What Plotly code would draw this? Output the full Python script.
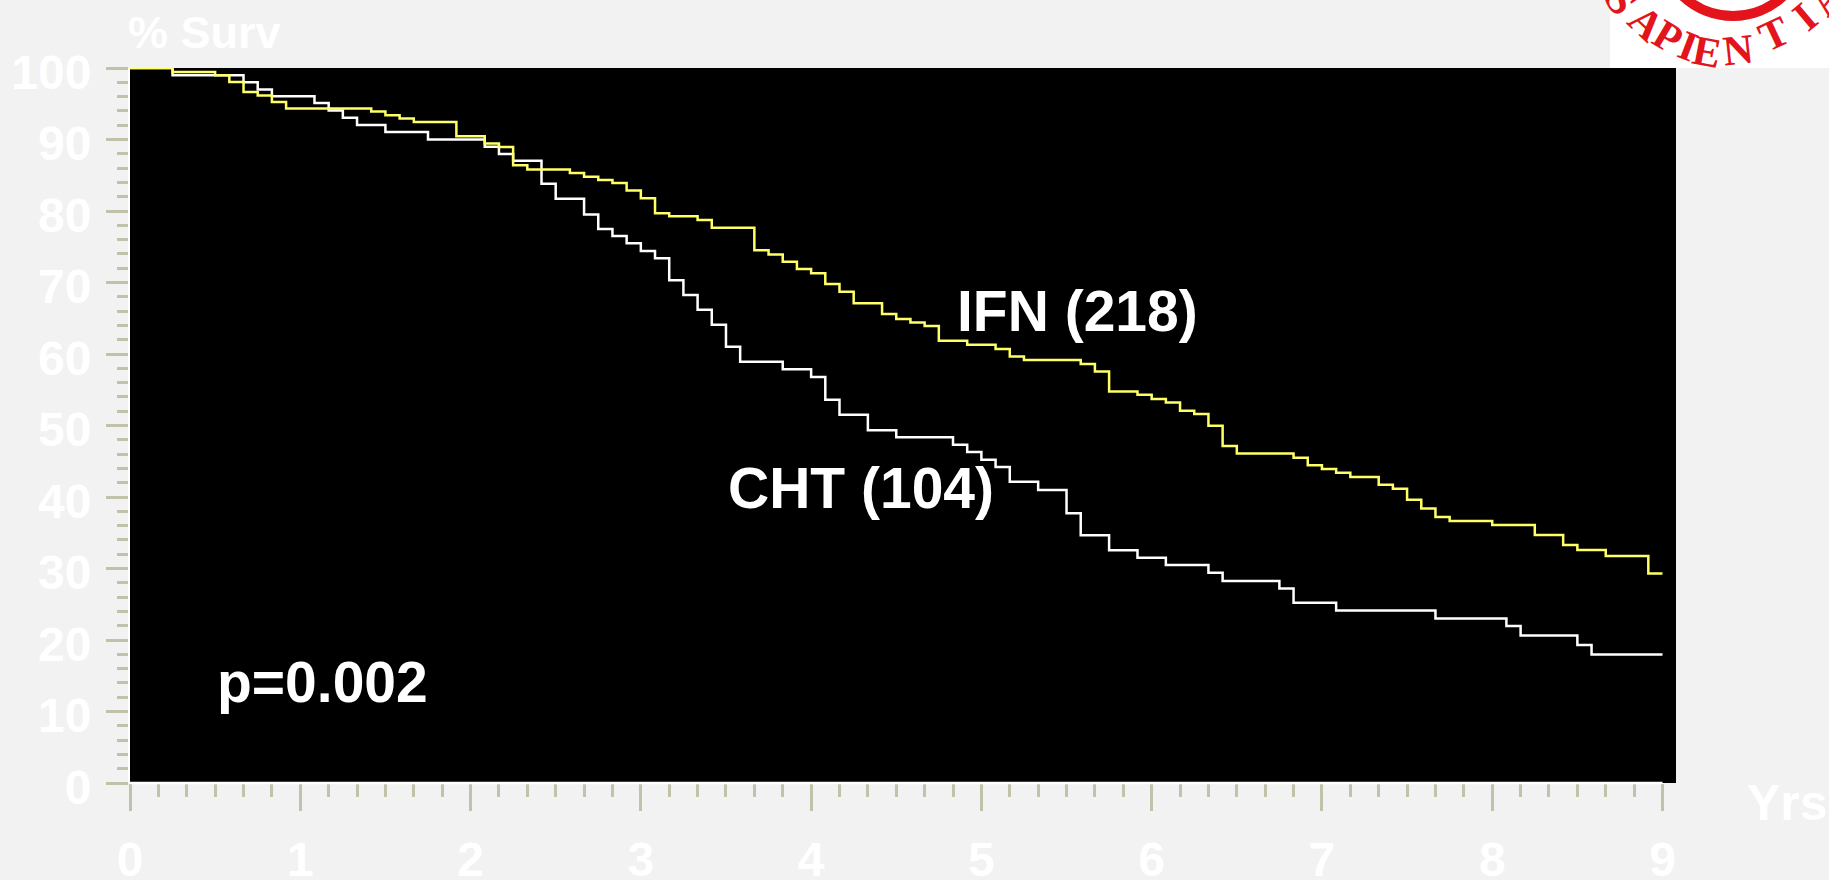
import plotly.graph_objects as go

# ---- data ----
months_ifn = [0, 3, 6, 7, 8, 9, 10, 11, 17, 18, 19, 20, 23, 25, 26, 27, 28, 31, 32, 33, 34, 35, 36,
              37, 38, 40, 41, 44, 45, 46, 47, 48, 49, 50, 51, 53, 54, 55, 56, 57, 59, 61, 62, 63, 67,
              68, 69, 71, 72, 73, 74, 75, 76, 77, 78, 82, 83, 84, 85, 86, 88, 89, 90, 91, 92, 93, 96,
              99, 101, 102, 104, 107, 108]
surv_ifn = [100, 99.45, 99.0, 98.05, 96.65, 96.15, 95.25, 94.35, 93.9, 93.4, 92.95, 92.45, 90.45,
            89.45, 88.95, 86.4, 85.8, 85.3, 84.8, 84.35, 83.9, 82.85, 81.8, 79.7, 79.25, 78.75, 77.65,
            74.5, 73.9, 72.9, 71.9, 71.3, 69.8, 68.7, 67.1, 65.6, 64.9, 64.4, 63.9, 61.85, 61.3, 60.7,
            59.65, 59.15, 58.6, 57.55, 54.75, 54.3, 53.7, 53.2, 52.05, 51.6, 49.95, 47.15, 46.1, 45.5,
            44.45, 43.9, 43.4, 42.8, 41.7, 41.15, 39.6, 38.4, 37.2, 36.65, 36.1, 34.7, 33.3, 32.6,
            31.75, 29.3, 29.3]

months_cht = [0, 3, 8, 9, 10, 13, 14, 15, 16, 18, 21, 25, 26, 27, 29, 30, 32, 33, 34, 35, 36, 37, 38,
              39, 40, 41, 42, 43, 46, 48, 49, 50, 52, 54, 58, 59, 60, 61, 62, 64, 66, 67, 69, 71, 73,
              76, 77, 81, 82, 85, 92, 97, 98, 102, 103, 108]
surv_cht = [100, 99.0, 98.0, 97.0, 96.05, 95.1, 94.07, 93.05, 92.02, 91.04, 90.01, 88.99, 87.96,
            87.03, 83.81, 81.7, 79.5, 77.5, 76.5, 75.5, 74.4, 73.4, 70.3, 68.25, 66.2, 64.1, 61.0,
            58.9, 57.88, 56.8, 53.6, 51.5, 49.34, 48.35, 47.3, 46.3, 45.2, 44.2, 42.15, 40.98, 37.72,
            34.64, 32.54, 31.51, 30.49, 29.41, 28.25, 27.22, 25.22, 24.14, 23.02, 21.95, 20.64,
            19.29, 17.98, 17.98]

x_ticks = list(range(0, 10))
y_ticks = list(range(0, 101, 10))
series_labels = ["IFN (218)", "CHT (104)"]
p_text = "p=0.002"

years_ifn = [m / 12 for m in months_ifn]
years_cht = [m / 12 for m in months_cht]

FONT = "Liberation Sans, Arial, Helvetica, sans-serif"
TICKC = "#c2c2aa"
W, H = 1829, 880
ML, MR, MT, MB = 130, 153, 68, 97
PW, PH = W - ML - MR, H - MT - MB


def px(xp):
    return (xp - ML) / PW


def py(yp):
    return (H - MB - yp) / PH


fig = go.Figure()
fig.add_trace(go.Scatter(x=years_cht, y=surv_cht, mode="lines", line=dict(color="#ffffff", width=2.5, shape="hv"),
                         hoverinfo="skip", showlegend=False, cliponaxis=True))
fig.add_trace(go.Scatter(x=years_ifn, y=surv_ifn, mode="lines", line=dict(color="#ffff66", width=2.5, shape="hv"),
                         hoverinfo="skip", showlegend=False, cliponaxis=True))

annotations = [
    dict(x=5.567, y=66.0, xref="x", yref="y", text=series_labels[0], showarrow=False,
         font=dict(family=FONT, size=57, color="white", weight="bold"), xanchor="center", yanchor="middle"),
    dict(x=4.295, y=41.2, xref="x", yref="y", text=series_labels[1], showarrow=False,
         font=dict(family=FONT, size=57, color="white", weight="bold"), xanchor="center", yanchor="middle"),
    dict(x=1.133, y=14.1, xref="x", yref="y", text=p_text, showarrow=False,
         font=dict(family=FONT, size=57, color="white", weight="bold"), xanchor="center", yanchor="middle"),
    dict(x=px(126), y=py(32), xref="paper", yref="paper", text="% Surv", showarrow=False,
         font=dict(family=FONT, size=45, color="white", weight="bold"), xanchor="left", yanchor="middle"),
    dict(x=px(1745), y=py(803), xref="paper", yref="paper", text="Yrs", showarrow=False,
         font=dict(family=FONT, size=50, color="white", weight="bold"), xanchor="left", yanchor="middle"),
]

# logo (approximation of the red "SAPIENTIA" seal fragment in the top-right corner)
logo_letters = [("S", 1621, 0, 56), ("A", 1646, 23, 43), ("P", 1668, 37, 31), ("I", 1688, 46, 21),
                ("E", 1707, 52, 11), ("N", 1738, 50, -6), ("T", 1774, 34, -25), ("I", 1805, 17, -40),
                ("A", 1826, -2, -52)]
for ch, lx, ly, a in logo_letters:
    annotations.append(dict(x=px(lx), y=py(ly), xref="paper", yref="paper", text=ch, showarrow=False,
                            textangle=a, font=dict(family="Liberation Serif, serif", size=42,
                                                   color="#e3141b", weight="bold"),
                            xanchor="center", yanchor="middle"))

shapes = [
    dict(type="rect", xref="paper", yref="paper", x0=px(1610), x1=px(1835), y0=py(68), y1=py(-5),
         fillcolor="white", line=dict(width=0), layer="below"),
    dict(type="circle", xref="paper", yref="paper", x0=px(1660), x1=px(1806), y0=py(16), y1=py(-130),
         line=dict(color="#e3141b", width=10)),
    dict(type="line", xref="x", yref="paper", x0=0, x1=9, y0=0, y1=0,
         line=dict(color="white", width=2.5)),
]

fig.update_layout(
    width=W, height=H,
    margin=dict(l=ML, r=MR, t=MT, b=MB, pad=0, autoexpand=False),
    paper_bgcolor="#f2f2f2",
    plot_bgcolor="black",
    annotations=annotations,
    shapes=shapes,
    xaxis=dict(range=[0, 9 * 1546 / 1532.5], tickvals=x_ticks, ticktext=[str(v) for v in x_ticks],
               showgrid=False, zeroline=False, showline=False, automargin=False,
               ticks="outside", ticklen=27, tickwidth=3, tickcolor=TICKC,
               ticklabelstandoff=7,
               tickfont=dict(family=FONT, size=48, color="white", weight="bold"),
               minor=dict(dtick=1 / 6, tick0=0, ticks="outside", ticklen=13, tickwidth=3, tickcolor=TICKC),
               fixedrange=True),
    yaxis=dict(range=[0, 100], tickvals=y_ticks, ticktext=[str(v) for v in y_ticks],
               showgrid=False, zeroline=False, showline=True, linecolor="white", linewidth=2,
               automargin=False,
               ticks="outside", ticklen=22, tickwidth=3, tickcolor=TICKC,
               ticklabelstandoff=5, ticklabelshift=4,
               tickfont=dict(family=FONT, size=48, color="white", weight="bold"),
               minor=dict(dtick=2, tick0=0, ticks="outside", ticklen=11, tickwidth=3, tickcolor=TICKC),
               fixedrange=True),
)

fig.write_html("out.html")
